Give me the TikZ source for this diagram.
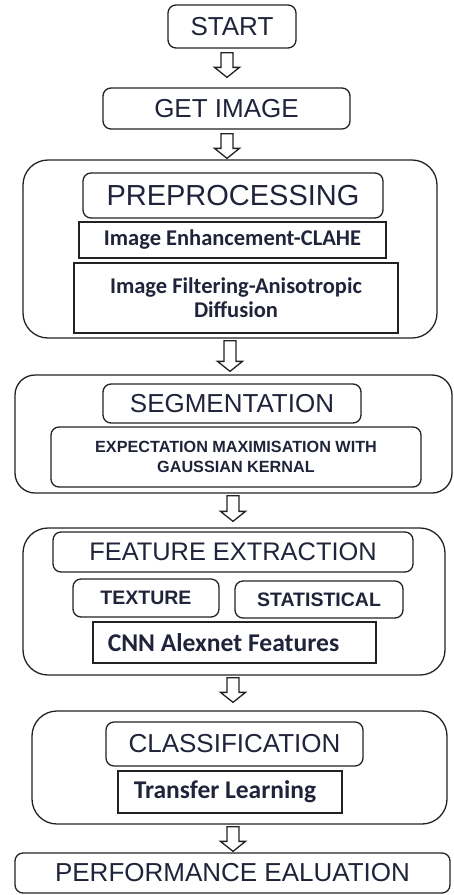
\documentclass[tikz,border=0pt]{standalone}
\usepackage{fontspec}
\setmainfont{Liberation Sans}
\newfontfamily\calib{Carlito}
\usetikzlibrary{calc}
\definecolor{linec}{RGB}{34,34,34}
\definecolor{txt}{RGB}{32,36,58}
\newcommand\fs[2]{\fontsize{#1pt}{#2pt}\selectfont}
\newcommand\harrow[2]{\draw[harr] let \p1=(#1), \p2=(#2) in
  (\x1-6pt,\y1) -- (\x1-6pt,\y2+10pt) -- (\x1-12.5pt,\y2+10pt) -- (\x1,\y2) --
  (\x1+12.5pt,\y2+10pt) -- (\x1+6pt,\y2+10pt) -- (\x1+6pt,\y1) -- cycle;}
\tikzset{
  sbox/.style={draw=linec, line width=1.3pt, inner sep=0pt, text=txt, align=center},
  rbox/.style={sbox, rounded corners=8pt},
  obox/.style={sbox, rounded corners=25pt},
  head/.style={font=\fs{26}{30}},
  subc/.style={font=\calib\bfseries\fs{22.5}{24}},
  subb/.style={font=\bfseries\fs{19.5}{22}},
  harr/.style={draw=linec, line width=1.3pt, fill=white, line join=miter}
}
\begin{document}
\begin{tikzpicture}[x=1pt,y=-1pt]
\useasboundingbox (0,0) rectangle (454,895);
% outer group boxes
\node[obox, minimum width=414pt, minimum height=178pt] (preo) at (230,249) {};
\node[obox, rounded corners=20pt, minimum width=437pt, minimum height=118pt] (sego) at (233.5,434) {};
\node[obox, minimum width=422pt, minimum height=147pt] (feato) at (234,601.5) {};
\node[obox, minimum width=415pt, minimum height=113pt] (clso) at (239.5,767.5) {};
% simple boxes
\node[rbox, head, minimum width=128pt, minimum height=43pt] (start) at (232,26.5) {START};
\node[rbox, head, minimum width=247pt, minimum height=41pt] (get) at (226.5,108.5) {GET IMAGE};
\node[rbox, font=\fs{29}{32}, minimum width=300pt, minimum height=45pt] (preh) at (233,195.5) {PREPROCESSING};
\node[sbox, subc, minimum width=307pt, minimum height=36pt] (clahe) at (232.5,240) {Image Enhancement-CLAHE};
\node[sbox, subc, minimum width=324pt, minimum height=70pt] (filt) at (236,298) {Image Filtering-Anisotropic\\Diffusion};
\node[rbox, head, minimum width=258pt, minimum height=39pt] (segh) at (232,403.5) {SEGMENTATION};
\node[rbox, font=\bfseries\fs{16.2}{20}, minimum width=370pt, minimum height=60pt] (em) at (236,457) {EXPECTATION MAXIMISATION WITH\\GAUSSIAN KERNAL};
\node[rbox, head, font=\fs{25.4}{30}, minimum width=360pt, minimum height=40pt] (feath) at (233,552) {FEATURE EXTRACTION};
\node[rbox, subb, minimum width=146pt, minimum height=38pt] (tex) at (146,598) {TEXTURE};
\node[rbox, subb, minimum width=168pt, minimum height=37pt] (stat) at (319,599.5) {STATISTICAL};
\node[sbox, font=\calib\bfseries\fs{25.6}{28}, minimum width=283pt, minimum height=41pt] (cnn) at (234.5,642.5) {CNN Alexnet Features\hspace{22pt}};
\node[rbox, head, minimum width=257pt, minimum height=44pt] (clsh) at (234.5,744) {CLASSIFICATION};
\node[sbox, font=\calib\bfseries\fs{25.5}{28}, minimum width=224pt, minimum height=42pt] (tl) at (230,792) {Transfer Learning\hspace{10pt}};
\node[rbox, head, minimum width=435pt, minimum height=40pt] (perf) at (232.5,873) {PERFORMANCE EALUATION};
% arrow end points
\coordinate (a1s) at ([xshift=-5pt,yshift=-4pt]start.south);
\coordinate (a1e) at ([yshift=10pt]get.north);
\coordinate (a2s) at ([xshift=0.5pt,yshift=-4pt]get.south);
\coordinate (a2e) at ([yshift=1pt]preo.north);
\coordinate (a3s) at ([yshift=-2pt]preo.south);
\coordinate (a3e) at ([yshift=3pt]sego.north);
\coordinate (a4s) at ([xshift=-0.5pt,yshift=-2pt]sego.south);
\coordinate (a4e) at ([yshift=6pt]feato.north);
\coordinate (a5s) at ([xshift=-1pt,yshift=-2pt]feato.south);
\coordinate (a5e) at ([yshift=8pt]clso.north);
\coordinate (a6s) at ([xshift=-6.5pt,yshift=-2pt]clso.south);
\coordinate (a6e) at ([yshift=1pt]perf.north);
\harrow{a1s}{a1e}
\harrow{a2s}{a2e}
\harrow{a3s}{a3e}
\harrow{a4s}{a4e}
\harrow{a5s}{a5e}
\harrow{a6s}{a6e}
\end{tikzpicture}
\end{document}
